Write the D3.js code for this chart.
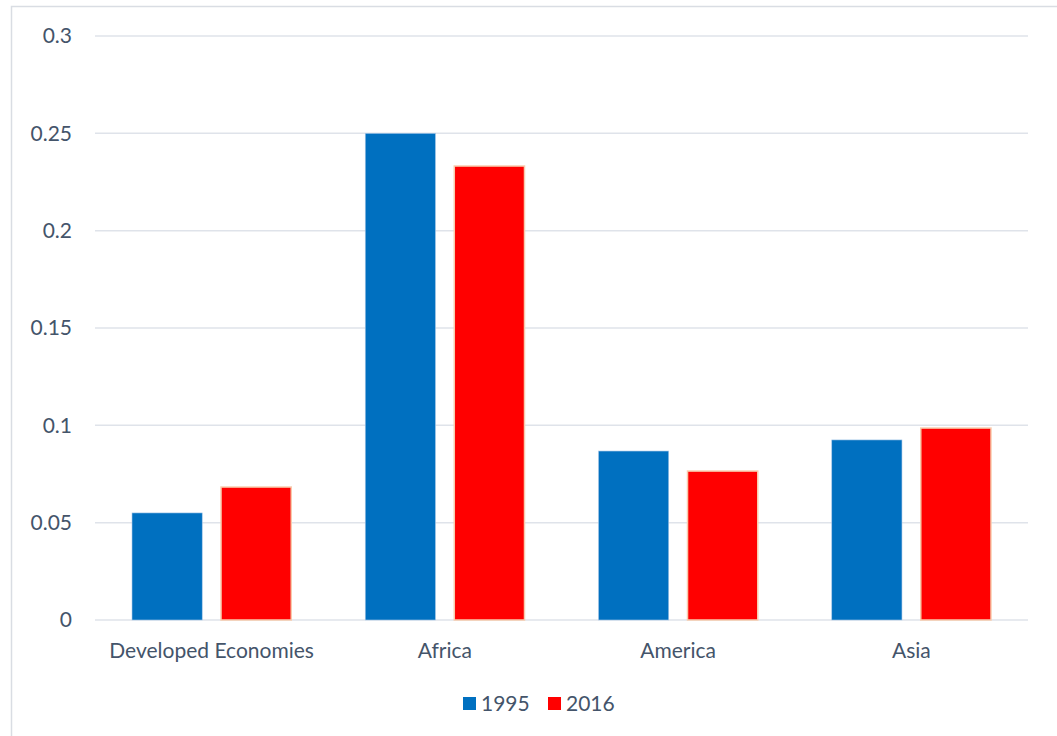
<!DOCTYPE html>
<html><head><meta charset="utf-8">
<script src="https://cdn.jsdelivr.net/npm/d3@7"></script>
<style>body{margin:0;background:#fff}svg{display:block}</style>
</head><body>
<script>
const categories = ["Developed Economies","Africa","America","Asia"];
const seriesNames = ["1995","2016"];
const values1995 = [0.055,0.25,0.0868,0.0925];
const values2016 = [0.0683,0.2332,0.0765,0.0986];
const yTicks = [0,0.05,0.1,0.15,0.2,0.25,0.3];
const yTickLabels = ["0","0.05","0.1","0.15","0.2","0.25","0.3"];

const W=1057,H=736;
const svg=d3.select("body").append("svg").attr("width",W).attr("height",H);
const font="Lato, 'Open Sans', sans-serif";
const fs=21;
const textColor="#44546a";
svg.append("rect").attr("x",11.5).attr("y",6.5).attr("width",W+10).attr("height",H+10)
  .attr("fill","#fff").attr("stroke","#d9dde3").attr("stroke-width",1.5);

const pLeft=95,pRight=1028,pTop=36,pBottom=620;
const x=d3.scaleBand().domain(categories).range([pLeft,pRight]).paddingInner(0).paddingOuter(0);
const y=d3.scaleLinear().domain([0,0.3]).range([pBottom,pTop]);

const g=svg.append("g");
g.selectAll("line.grid").data(yTicks).join("line")
  .attr("x1",pLeft).attr("x2",pRight).attr("y1",d=>y(d)).attr("y2",d=>y(d))
  .attr("stroke","#dfe3ea").attr("stroke-width",1.5);

const yAxis=d3.axisLeft(y).tickValues(yTicks).tickFormat((d,i)=>yTickLabels[i]).tickSize(0).tickPadding(0);
const ya=svg.append("g").attr("transform",`translate(72,0)`).call(yAxis);
ya.select(".domain").remove();
ya.selectAll("text").attr("font-family",font).attr("font-size",fs).attr("fill",textColor);

const xAxis=d3.axisBottom(x).tickSize(0).tickPadding(0);
const xa=svg.append("g").attr("transform",`translate(0,651)`).call(xAxis);
xa.select(".domain").remove();
xa.selectAll("text").attr("font-family",font).attr("font-size",fs).attr("fill",textColor).attr("dy","0.35em");

const inner=d3.scaleBand().domain(seriesNames).range([0,x.bandwidth()]).paddingInner(0.2).paddingOuter(0.41);
const colors={"1995":"#0070c0","2016":"#ff0000"};
const strokes={"1995":"#a9c8e8","2016":"#f8cbad"};
const data=[values1995,values2016];
seriesNames.forEach((s,si)=>{
  g.selectAll("rect.s"+si).data(categories).join("rect")
    .attr("x",c=>x(c)+inner(s)+0.5)
    .attr("width",inner.bandwidth()-1)
    .attr("y",(c,i)=>y(data[si][i]))
    .attr("height",(c,i)=>pBottom-y(data[si][i]))
    .attr("fill",colors[s]).attr("stroke",strokes[s]).attr("stroke-width",si?1.5:0.6);
});

const leg=svg.append("g");
const legPos=[{x:463,tx:481},{x:548,tx:566}];
seriesNames.forEach((s,i)=>{
  leg.append("rect").attr("x",legPos[i].x).attr("y",697).attr("width",13).attr("height",13).attr("fill",colors[s]);
  leg.append("text").attr("x",legPos[i].tx).attr("y",704).attr("dy","0.35em")
    .attr("font-family",font).attr("font-size",fs).attr("fill",textColor).text(s);
});
</script>
</body></html>
